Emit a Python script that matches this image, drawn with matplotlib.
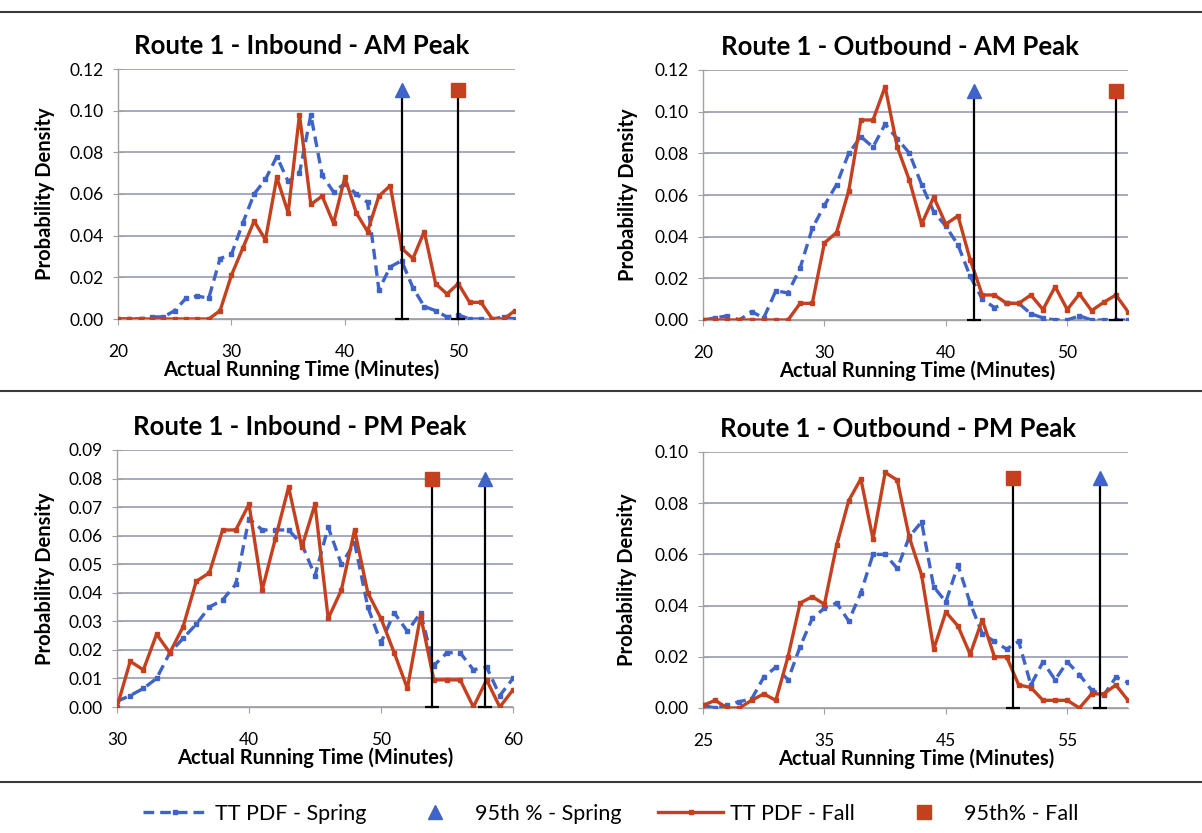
import matplotlib.pyplot as plt
from matplotlib.lines import Line2D

plt.rcParams["font.family"] = ["Lato", "DejaVu Sans"]

W, H = 1202, 833

# running time bins (minutes) and densities per route / direction / period
x_am = list(range(20, 56))
x_in_pm = list(range(30, 61))
x_out_pm = list(range(25, 61))

in_am_spring = [0, 0, 0, 0.001, 0.001, 0.004, 0.010, 0.011, 0.010, 0.029,
                0.031, 0.046, 0.060, 0.067, 0.078, 0.066, 0.070, 0.098, 0.069, 0.061,
                0.065, 0.060, 0.056, 0.014, 0.025, 0.028, 0.015, 0.006, 0.004, 0.001,
                0.002, 0, 0, 0, 0.001, 0]
in_am_fall = [0, 0, 0, 0, 0, 0, 0, 0, 0, 0.004,
              0.021, 0.034, 0.047, 0.038, 0.068, 0.051, 0.098, 0.055, 0.059, 0.046,
              0.068, 0.051, 0.042, 0.059, 0.064, 0.034, 0.029, 0.042, 0.017, 0.012,
              0.017, 0.008, 0.008, 0, 0, 0.004]

out_am_spring = [0, 0.001, 0.002, 0, 0.004, 0.001, 0.014, 0.013, 0.025, 0.044,
                 0.055, 0.065, 0.080, 0.088, 0.083, 0.094, 0.087, 0.080, 0.065, 0.052,
                 0.045, 0.036, 0.021, 0.010, 0.006, 0.008, 0.008, 0.003, 0.001, 0,
                 0, 0.002, 0, 0, 0, 0]
out_am_fall = [0, 0, 0, 0, 0, 0, 0, 0, 0.008, 0.008,
               0.037, 0.042, 0.062, 0.096, 0.096, 0.112, 0.083, 0.067, 0.046, 0.059,
               0.046, 0.050, 0.029, 0.012, 0.012, 0.008, 0.008, 0.012, 0.005, 0.016,
               0.005, 0.0125, 0.0045, 0.0085, 0.012, 0.004]

in_pm_spring = [0.002, 0.004, 0.0065, 0.010, 0.019, 0.024, 0.029, 0.035, 0.0375, 0.043,
                0.066, 0.062, 0.062, 0.062, 0.057, 0.046, 0.063, 0.050, 0.0575, 0.035,
                0.0225, 0.033, 0.0265, 0.033, 0.0145, 0.019, 0.019, 0.013, 0.014, 0.004,
                0.010]
in_pm_fall = [0, 0.016, 0.013, 0.0255, 0.019, 0.028, 0.044, 0.047, 0.062, 0.062,
              0.071, 0.041, 0.059, 0.077, 0.056, 0.071, 0.031, 0.041, 0.062, 0.040,
              0.031, 0.019, 0.0065, 0.032, 0.0095, 0.0095, 0.0095, 0, 0.0095, 0,
              0.006]

out_pm_spring = [0.001, 0, 0.001, 0.0025, 0.0035, 0.012, 0.016, 0.011, 0.024, 0.035,
                 0.039, 0.041, 0.034, 0.045, 0.060, 0.060, 0.0545, 0.067, 0.0727, 0.0473,
                 0.0415, 0.0558, 0.041, 0.029, 0.026, 0.023, 0.026, 0.009, 0.018, 0.011,
                 0.018, 0.013, 0.007, 0.005, 0.012, 0.010]
out_pm_fall = [0.001, 0.003, 0, 0, 0.003, 0.0055, 0.003, 0.020, 0.041, 0.0435,
               0.0405, 0.0635, 0.081, 0.0895, 0.066, 0.092, 0.089, 0.0665, 0.052, 0.023,
               0.0375, 0.032, 0.021, 0.0345, 0.020, 0.020, 0.009, 0.008, 0.003, 0.003,
               0.003, 0, 0.0055, 0.0055, 0.009, 0.003]

# 95th percentile running times (minutes) and the height the marker sits at
p95_spring = [45, 42.3, 57.9, 57.7]
p95_fall = [50, 54, 53.9, 50.5]
p95_height = [0.11, 0.11, 0.08, 0.09]

titles = ["Route 1 - Inbound - AM Peak", "Route 1 - Outbound - AM Peak",
          "Route 1 - Inbound - PM Peak", "Route 1 - Outbound - PM Peak"]

BLUE = "#3f63c8"
RED = "#c4401f"
GRID = "#8e92aa"
DASH = (0, (3.2, 1.8))

panels = [
    dict(x=x_am, spring=in_am_spring, fall=in_am_fall, xlim=(20, 55), xticks=[20, 30, 40, 50],
         ylim=(0, 0.12), ystep=0.02, box=(118, 69, 515, 319), tx=302, lx=301, yx=45),
    dict(x=x_am, spring=out_am_spring, fall=out_am_fall, xlim=(20, 55), xticks=[20, 30, 40, 50],
         ylim=(0, 0.12), ystep=0.02, box=(703, 70, 1128, 320), tx=900, lx=917, yx=628),
    dict(x=x_in_pm, spring=in_pm_spring, fall=in_pm_fall, xlim=(30, 60), xticks=[30, 40, 50, 60],
         ylim=(0, 0.09), ystep=0.01, box=(117, 450, 513, 707), tx=300, lx=315, yx=45),
    dict(x=x_out_pm, spring=out_pm_spring, fall=out_pm_fall, xlim=(25, 60), xticks=[25, 35, 45, 55],
         ylim=(0, 0.10), ystep=0.02, box=(703, 452, 1128, 708), tx=898, lx=916, yx=627),
]

fig = plt.figure(figsize=(W / 100, H / 100), dpi=100)

for i, p in enumerate(panels):
    x0, y0, x1, y1 = p["box"]
    ax = fig.add_axes([x0 / W, 1 - y1 / H, (x1 - x0) / W, (y1 - y0) / H])

    ax.plot(p["x"], p["spring"], color=BLUE, lw=2.4, ls=DASH, marker="s", ms=3.5, zorder=3)
    ax.plot(p["x"], p["fall"], color=RED, lw=2.4, marker="s", ms=3.5, zorder=4)

    # 95th percentile markers, with a drop line and a small foot cap on the axis
    for xs, mk, col in [(p95_spring[i], "^", BLUE), (p95_fall[i], "s", RED)]:
        hgt = p95_height[i]
        ax.plot([xs, xs], [0, hgt], color="black", lw=1.6, zorder=5, clip_on=False)
        ax.plot([xs], [0], marker="_", ms=10, mew=1.6, color="black", zorder=5, clip_on=False)
        ax.plot([xs], [hgt], marker=mk, ms=10, color=col, ls="none", zorder=6)

    ax.set_xlim(*p["xlim"])
    ax.set_ylim(*p["ylim"])
    ax.set_xticks(p["xticks"])
    n = round((p["ylim"][1] - p["ylim"][0]) / p["ystep"])
    yt = [round(k * p["ystep"], 2) for k in range(n + 1)]
    ax.set_yticks(yt)
    ax.set_yticklabels([f"{v:.2f}" for v in yt])
    ax.yaxis.grid(True, color=GRID, lw=1.1)
    ax.set_axisbelow(True)
    for s in ["top", "right"]:
        ax.spines[s].set_visible(False)
    for s in ["left", "bottom"]:
        ax.spines[s].set_color("#a0a0a0")
        ax.spines[s].set_linewidth(1.0)
    ax.tick_params(axis="x", length=4, color="#a0a0a0", pad=14, labelsize=12.5)
    ax.tick_params(axis="y", direction="inout", length=7, color="#a0a0a0", pad=7, labelsize=12.5)

    fig.text(p["tx"] / W, 1 - (y0 - 23) / H, titles[i], ha="center", va="center",
             fontsize=18.5, fontweight="bold")
    fig.text(p["lx"] / W, 1 - (y1 + 51) / H, "Actual Running Time (Minutes)",
             ha="center", va="center", fontsize=14.5, fontweight="bold")
    fig.text(p["yx"] / W, 1 - ((y0 + y1) / 2) / H, "Probability Density", rotation=90,
             ha="center", va="center", fontsize=14.5, fontweight="bold")

# separator rules between chart rows
for yy in [12, 391, 782]:
    fig.add_artist(Line2D([0, 1], [1 - yy / H, 1 - yy / H], transform=fig.transFigure,
                          color="#3a3a3a", lw=1.5))

handles = [
    Line2D([], [], color=BLUE, lw=2.4, ls=DASH, marker="s", ms=3.5),
    Line2D([], [], color=BLUE, marker="^", ms=10, ls="none"),
    Line2D([], [], color=RED, lw=2.4, marker="s", ms=3.5),
    Line2D([], [], color=RED, marker="s", ms=10, ls="none"),
]
labels = ["TT PDF - Spring", "95th % - Spring", "TT PDF - Fall", "95th% - Fall"]
fig.legend(handles, labels, loc="center", bbox_to_anchor=(0.508, 1 - 814 / H), ncol=4,
           frameon=False, fontsize=15.5, handlelength=3.0, columnspacing=1.7,
           handletextpad=0.35)

fig.savefig("out.png", dpi=100)
